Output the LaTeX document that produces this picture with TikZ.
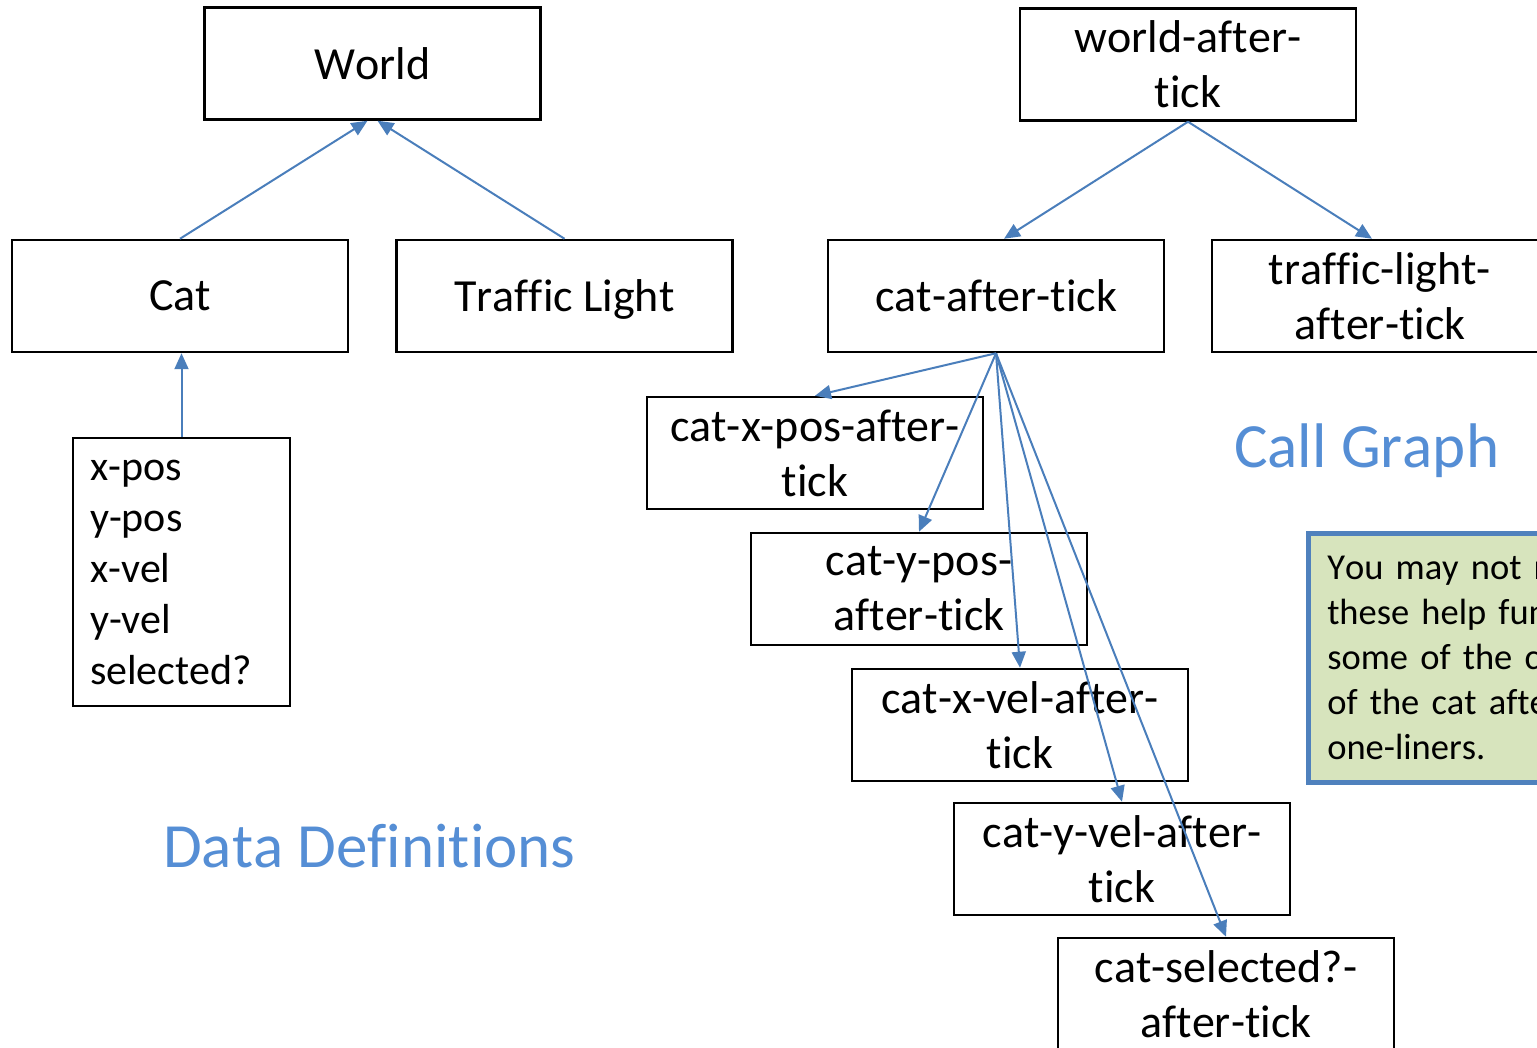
\documentclass[tikz,border=0pt]{standalone}
\usepackage{fontspec}
\setmainfont{Carlito}[Ligatures={NoCommon},Kerning=Off]
\usetikzlibrary{arrows.meta}
\definecolor{arrowblue}{RGB}{74,126,187}
\definecolor{titleblue}{RGB}{85,142,213}
\definecolor{notefill}{RGB}{215,228,189}
\definecolor{noteborder}{RGB}{79,129,189}
\begin{document}
\begin{tikzpicture}[x=1pt,y=-1pt,
 box/.style={draw=black, line width=2.5pt, fill=white, minimum width=336pt, minimum height=112pt, inner sep=0pt, align=center, font=\fontsize{46}{55}\selectfont},
 link/.style={draw=arrowblue, line width=2pt, -{Triangle[length=16pt,width=14pt]}},
 title/.style={text=titleblue, font=\fontsize{63}{75}\selectfont, anchor=base west, inner sep=0pt}]
\useasboundingbox (0,0) rectangle (1537,1048);
\clip (0,0) rectangle (1537,1048);
% data definitions
\node[box] (world) at (372.5,63.5) {World};
\node[box] (cat) at (180,296) {Cat};
\node[box, text height=32pt, text depth=0pt] (tl) at (564.5,296) {Traffic Light};
\node[box, minimum width=217pt, minimum height=268pt, align=left, text width=183pt, font=\fontsize{42}{51}\selectfont] (fields) at (181.5,572) {x-pos\\y-pos\\x-vel\\y-vel\\selected?};
% call graph
\node[box] (wat) at (1188,64.5) {world-after-\\tick};
\node[box] (cat2) at (996,296) {cat-after-tick};
\node[box] (tl2) at (1380,296) {traffic-light-\\after-tick};
\node[box] (xpos) at (815,453) {cat-x-pos-after-\\tick};
\node[box] (ypos) at (919,589) {cat-y-pos-\\after-tick};
\node[box] (xvel) at (1020,725) {cat-x-vel-after-\\tick};
\node[box] (yvel) at (1122,859) {cat-y-vel-after-\\tick};
\node[box] (sel) at (1226,994) {cat-selected?-\\after-tick};
% note
\node[draw=noteborder, line width=4.5pt, fill=notefill, anchor=north west, minimum width=400pt, minimum height=249pt, inner xsep=19pt, inner ysep=0pt, align=left, text width=362pt, font=\fontsize{36.5}{45}\selectfont] (note) at (1306,531) {You may not n\\these help fun\\some of the co\\of the cat afte\\one-liners.};
% titles
\node[title] (dd) at (163,867) {Data Definitions};
\node[title] (cg) at (1234,467) {Call Graph};
% connectors
\draw[link] (cat.north) -- ([xshift=-5pt]world.south);
\draw[link] (tl.north) -- ([xshift=5pt]world.south);
\draw[link] (fields.north) -- (fields.north |- cat.south);
\draw[link] (wat.south) -- ([xshift=8pt]cat2.north);
\draw[link] (wat.south) -- ([xshift=-8pt]tl2.north);
\draw[link] (cat2.south) -- (xpos.north);
\draw[link] (cat2.south) -- (ypos.north);
\draw[link] (cat2.south) -- (xvel.north);
\draw[link] (cat2.south) -- (yvel.north);
\draw[link] (cat2.south) -- (sel.north);
\end{tikzpicture}
\end{document}
